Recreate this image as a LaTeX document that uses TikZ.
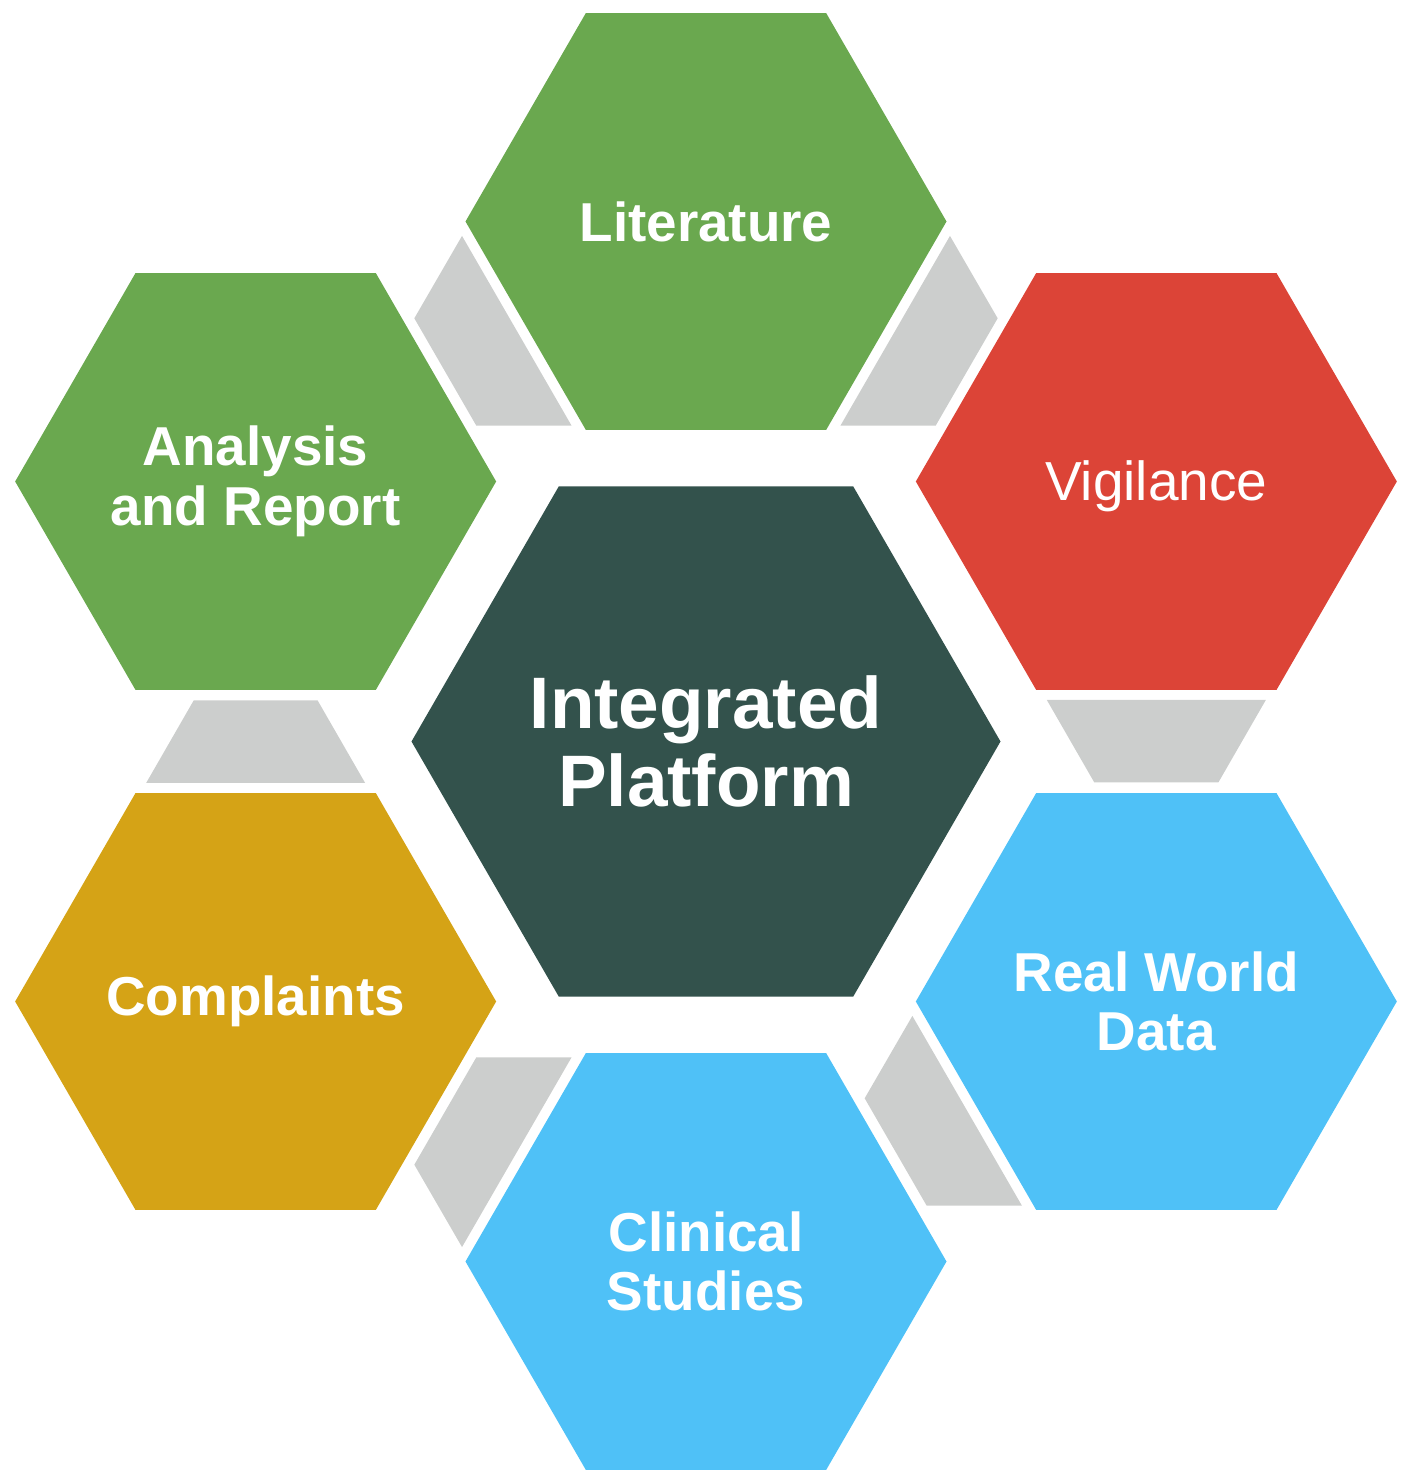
\documentclass[tikz,border=0pt]{standalone}
\usepackage{fontspec}
\setmainfont{Liberation Sans}
\usetikzlibrary{shapes.geometric, calc}

\definecolor{hexgreen}{HTML}{6AA84F}
\definecolor{hexred}{HTML}{DC4437}
\definecolor{hexblue}{HTML}{4FC1F7}
\definecolor{hexgold}{HTML}{D5A316}
\definecolor{hexdark}{HTML}{33524C}
\definecolor{linkgray}{HTML}{CCCECD}

\begin{document}
\begin{tikzpicture}[
        hexa/.style={regular polygon, regular polygon sides=6, minimum size=9.62cm, inner sep=-1cm, outer sep=0pt, align=center, text=white, font=\fontsize{31.2}{34}\selectfont\bfseries},
        core/.style={hexa, minimum size=11.78cm, fill=hexdark, font=\fontsize{41.5}{44.4}\selectfont\bfseries},
        link/.style={fill=linkgray}
    ]
%
    \useasboundingbox (-14.12,-14.77) rectangle (14.10,14.83);
%
    % Nodes
    \node[core] (core) {Integrated\\Platform};
    \node[hexa, fill=hexgreen] (lit) at (90:10.4) {Literature};
    \node[hexa, fill=hexred, font=\fontsize{31.3}{34}\selectfont, text depth=0.1em] (vig) at (30:10.4) {Vigilance};
    \node[hexa, fill=hexblue] (rwd) at (-30:10.4) {Real World\\Data};
    \node[hexa, fill=hexblue] (cli) at (-90:10.4) {Clinical\\Studies};
    \node[hexa, fill=hexgold] (com) at (210:10.4) {Complaints};
    \node[hexa, fill=hexgreen] (ana) at (150:10.4) {Analysis\\and Report};
%
    % Links
    \foreach \a/\b in {lit/vig, vig/rwd, rwd/cli, cli/com, com/ana, lit/ana}
        \fill[link] ($(\a.center)!4.37cm!(\b.center)!2.19cm!90:(\b.center)$)
            -- ($(\a.center)!4.37cm!(\b.center)!2.19cm!-90:(\b.center)$)
            -- ($(\a.center)!6.02cm!(\b.center)!1.24cm!-90:(\b.center)$)
            -- ($(\a.center)!6.02cm!(\b.center)!1.24cm!90:(\b.center)$) -- cycle;
%
\end{tikzpicture}
\end{document}
